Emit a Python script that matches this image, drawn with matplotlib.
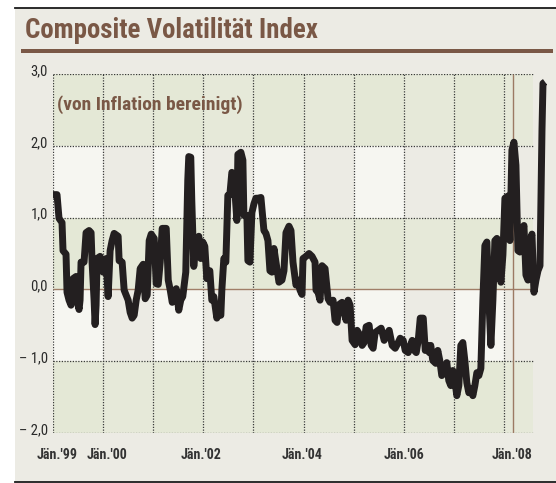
import matplotlib
matplotlib.use("Agg")
import matplotlib.pyplot as plt
from matplotlib import font_manager as fm
from matplotlib.patches import Rectangle
from matplotlib.lines import Line2D
import matplotlib.transforms as mtransforms

# ---------------- data ----------------
dates = [
    1999.00, 1999.08, 1999.12, 1999.18, 1999.20, 1999.26, 1999.28, 1999.32, 1999.36, 1999.38,
    1999.40, 1999.46, 1999.48, 1999.52, 1999.54, 1999.56, 1999.62, 1999.66, 1999.72, 1999.76,
    1999.78, 1999.82, 1999.84, 1999.86, 1999.88, 1999.94, 2000.00, 2000.06, 2000.10, 2000.14,
    2000.18, 2000.22, 2000.30, 2000.32, 2000.38, 2000.42, 2000.46, 2000.50, 2000.54, 2000.58,
    2000.62, 2000.66, 2000.70, 2000.74, 2000.80, 2000.84, 2000.88, 2000.92, 2000.96, 2001.02,
    2001.06, 2001.10, 2001.14, 2001.18, 2001.26, 2001.30, 2001.34, 2001.38, 2001.42, 2001.46,
    2001.51, 2001.55, 2001.59, 2001.65, 2001.69, 2001.71, 2001.75, 2001.77, 2001.81, 2001.85,
    2001.91, 2001.95, 2001.99, 2002.03, 2002.07, 2002.13, 2002.17, 2002.21, 2002.27, 2002.31,
    2002.35, 2002.37, 2002.41, 2002.45, 2002.49, 2002.53, 2002.57, 2002.61, 2002.67, 2002.69,
    2002.75, 2002.79, 2002.81, 2002.87, 2002.89, 2002.93, 2002.97, 2003.01, 2003.05, 2003.09,
    2003.15, 2003.21, 2003.25, 2003.29, 2003.33, 2003.37, 2003.41, 2003.45, 2003.51, 2003.57,
    2003.61, 2003.65, 2003.71, 2003.75, 2003.79, 2003.85, 2003.89, 2003.93, 2003.97, 2003.99,
    2004.05, 2004.11, 2004.17, 2004.23, 2004.25, 2004.29, 2004.33, 2004.37, 2004.43, 2004.49,
    2004.53, 2004.59, 2004.63, 2004.67, 2004.71, 2004.77, 2004.81, 2004.85, 2004.89, 2004.93,
    2004.97, 2005.03, 2005.07, 2005.13, 2005.17, 2005.21, 2005.25, 2005.31, 2005.35, 2005.39,
    2005.43, 2005.49, 2005.55, 2005.61, 2005.65, 2005.71, 2005.77, 2005.83, 2005.89, 2005.93,
    2005.99, 2006.03, 2006.09, 2006.13, 2006.17, 2006.21, 2006.25, 2006.29, 2006.33, 2006.39,
    2006.43, 2006.47, 2006.51, 2006.54, 2006.58, 2006.64, 2006.68, 2006.72, 2006.76, 2006.80,
    2006.86, 2006.90, 2006.94, 2006.98, 2007.02, 2007.06, 2007.10, 2007.14, 2007.18, 2007.22,
    2007.26, 2007.30, 2007.34, 2007.38, 2007.42, 2007.46, 2007.50, 2007.54, 2007.58, 2007.62,
    2007.66, 2007.70, 2007.74, 2007.78, 2007.82, 2007.86, 2007.90, 2007.94, 2007.98, 2008.02,
    2008.08, 2008.12, 2008.16, 2008.20, 2008.24, 2008.28, 2008.32, 2008.36, 2008.40, 2008.44,
    2008.48, 2008.52, 2008.56, 2008.60, 2008.64, 2008.68, 2008.72, 2008.76, 2008.78, 2008.82,
]
values = [
    1.32, 1.32, 0.99, 0.93, 0.54, 0.49, -0.04, -0.15, -0.22, -0.01,
    0.15, 0.18, -0.15, -0.28, -0.15, 0.38, 0.38, 0.79, 0.82, 0.79,
    0.38, -0.15, -0.49, -0.22, 0.43, 0.46, 0.24, 0.43, -0.10, 0.54,
    0.68, 0.78, 0.74, 0.40, 0.38, -0.01, -0.08, -0.15, -0.32, -0.40,
    -0.36, -0.15, -0.01, 0.29, 0.35, -0.13, -0.08, 0.68, 0.77, 0.71,
    0.08, 0.07, 0.38, 0.85, 0.85, 0.13, -0.01, -0.18, -0.08, 0.01,
    -0.29, -0.15, -0.10, 0.24, 1.52, 1.85, 1.84, 1.24, 0.32, 0.68,
    0.74, 0.43, 0.66, 0.60, 0.15, 0.26, -0.15, -0.10, -0.40, -0.29,
    -0.36, -0.01, 0.43, 0.38, 1.31, 1.32, 1.63, 1.58, 0.96, 1.88,
    1.91, 1.80, 1.03, 1.03, 0.40, 0.38, 1.07, 1.19, 1.27, 1.27,
    1.28, 0.82, 0.78, 0.68, 0.26, 0.24, 0.57, 0.38, 0.10, 0.13,
    0.26, 0.79, 0.88, 0.82, 0.38, 0.06, 0.13, -0.01, -0.07, 0.43,
    0.46, 0.50, 0.46, 0.38, -0.01, -0.04, -0.15, 0.33, 0.29, -0.13,
    -0.18, -0.15, -0.43, -0.46, -0.21, -0.18, -0.32, -0.43, -0.15, -0.22,
    -0.71, -0.77, -0.57, -0.64, -0.78, -0.74, -0.52, -0.50, -0.78, -0.82,
    -0.60, -0.57, -0.54, -0.71, -0.64, -0.57, -0.78, -0.82, -0.74, -0.68,
    -0.71, -0.85, -0.88, -0.79, -0.71, -0.85, -0.88, -0.71, -0.40, -0.40,
    -0.85, -0.78, -0.88, -0.78, -0.99, -1.03, -0.85, -0.99, -1.20, -1.16,
    -1.02, -1.27, -1.34, -1.13, -1.27, -1.48, -1.34, -0.78, -0.74, -0.99,
    -1.30, -1.44, -1.38, -1.48, -1.34, -1.16, -1.20, -1.10, -0.15, 0.61,
    0.66, -0.15, -0.78, -0.15, 0.68, 0.71, 0.40, 0.10, 0.48, 1.27,
    1.30, 0.68, 1.94, 2.05, 1.73, 0.54, 0.52, 0.79, 0.89, 0.20,
    0.13, 0.68, 0.77, -0.04, 0.13, 0.26, 0.33, 2.22, 2.87, 2.89,
]

grid_years = list(range(1999, 2009))
yticks = [3, 2, 1, 0, -1, -2]
ytick_labels = ["3,0", "2,0", "1,0", "0,0", "\u2013 1,0", "\u2013 2,0"]
xlabel_pos = [1999.08, 2000.08, 2001.95, 2003.97, 2006.00, 2008.16]
xlabels = ["J\u00e4n.'99", "J\u00e4n.'00", "J\u00e4n.'02", "J\u00e4n.'04", "J\u00e4n.'06", "J\u00e4n.'08"]
marker_date = 2008.18
shade_end = 2008.58

title = "Composite Volatilit\u00e4t Index"
subtitle = "(von Inflation bereinigt)"

# ---------------- fonts ----------------
avail = {f.name for f in fm.fontManager.ttflist}
FONT = "DejaVu Sans"
STRETCH = "normal"
for cand in ["Roboto Condensed", "Open Sans Condensed", "Liberation Sans Narrow",
             "DejaVu Sans Condensed"]:
    if cand in avail:
        FONT = cand
        break
else:
    cond = [f for f in fm.fontManager.ttflist
            if f.name == "DejaVu Sans" and str(f.stretch) in ("condensed", "semi-condensed")]
    if cond:
        FONT = "DejaVu Sans"
        STRETCH = "condensed"

BROWN = "#7a5846"
BG = "#ecebe4"
LIGHT = "#f6f6f1"
GREEN_A = "#e4e8d6"
GREEN_B = "#e6e9d9"
LINE = "#231f20"

W, H = 556, 483
fig = plt.figure(figsize=(W / 100, H / 100), dpi=100)
fig.patch.set_facecolor("white")


def fx(px):
    return px / W


def fy(py):
    return (H - py) / H


# panel background
fig.add_artist(Rectangle((fx(15), fy(481)), fx(556) - fx(15), fy(8) - fy(481),
                         transform=fig.transFigure, facecolor=BG, edgecolor="none", zorder=0))
fig.add_artist(Line2D([fx(15), 1.0], [fy(8), fy(8)], transform=fig.transFigure,
                      color="#1a1a1a", lw=1.3))
fig.add_artist(Line2D([fx(15), 1.0], [fy(481.5), fy(481.5)], transform=fig.transFigure,
                      color="#1a1a1a", lw=1.3))
# title underline
fig.add_artist(Rectangle((fx(21), fy(53)), fx(553) - fx(21), fy(49) - fy(53),
                         transform=fig.transFigure, facecolor=BROWN, edgecolor="none"))

renderer = fig.canvas.get_renderer()


def fit_text(t, target_w):
    bb = t.get_window_extent(renderer=renderer)
    if bb.width > 0:
        t.set_fontsize(t.get_fontsize() * target_w / bb.width)


tt = fig.text(fx(25), fy(38), title, fontsize=16, fontweight="bold", color=BROWN,
              family=FONT, fontstretch=STRETCH, va="baseline", ha="left")
fit_text(tt, 293)

# axes
ax = fig.add_axes([fx(53), fy(433), fx(548) - fx(53), fy(74) - fy(433)])
ax.set_xlim(1999, 2008.88)
ax.set_ylim(-2, 3)
ax.axis("off")

bands = [(2, 3, "g"), (1, 2, "w"), (0, 1, "g"), (-1, 0, "w"), (-2, -1, "g")]
for y0, y1, kind in bands:
    for i, yr in enumerate(grid_years):
        x0 = yr
        x1 = min(yr + 1, shade_end)
        if kind == "g":
            col = GREEN_A if i % 2 == 0 else GREEN_B
        else:
            col = LIGHT if i % 2 == 0 else BG
        ax.add_patch(Rectangle((x0, y0), x1 - x0, y1 - y0, facecolor=col,
                               edgecolor="none", zorder=0))

dot = (0, (1.0, 1.2))
ax.hlines([v for v in yticks if v != 0], 1999, shade_end, colors="#3a3a3a",
          linestyles=dot, lw=0.9, zorder=1)
ax.vlines(grid_years, -2, 3, colors="#3a3a3a", linestyles=dot, lw=0.9, zorder=1)
ax.hlines(0, 1999, shade_end, colors="#a07e68", lw=1.0, zorder=1)
ax.vlines(marker_date, -2, 3, colors="#9c7a64", lw=1.0, zorder=1)

ax.plot(dates, values, color=LINE, lw=5.0, solid_joinstyle="round",
        solid_capstyle="butt", clip_on=False, zorder=3)

# y tick labels
ytrans = mtransforms.blended_transform_factory(fig.transFigure, ax.transData)
for v, lab in zip(yticks, ytick_labels):
    ax.text(fx(48), v + 0.04, lab, transform=ytrans, ha="right", va="center",
            fontsize=10.5, color="#2a2a2a", family=FONT, fontstretch=STRETCH)

# x labels
xtrans = mtransforms.blended_transform_factory(ax.transData, fig.transFigure)
xl = []
for p, lab in zip(xlabel_pos, xlabels):
    t = ax.text(p, fy(455), lab, transform=xtrans, ha="center", va="center",
                fontsize=9, fontweight="bold", color="#333333", family=FONT,
                fontstretch=STRETCH)
    xl.append(t)
fit_text(xl[0], 41)
for t in xl[1:]:
    t.set_fontsize(xl[0].get_fontsize())

st = ax.text(fx(57), fy(105), subtitle, transform=mtransforms.blended_transform_factory(
    fig.transFigure, fig.transFigure), ha="left", va="center", fontsize=11,
    fontweight="bold", color=BROWN, family=FONT, fontstretch=STRETCH, zorder=4)
fit_text(st, 184)

fig.savefig("out.png", dpi=100)
